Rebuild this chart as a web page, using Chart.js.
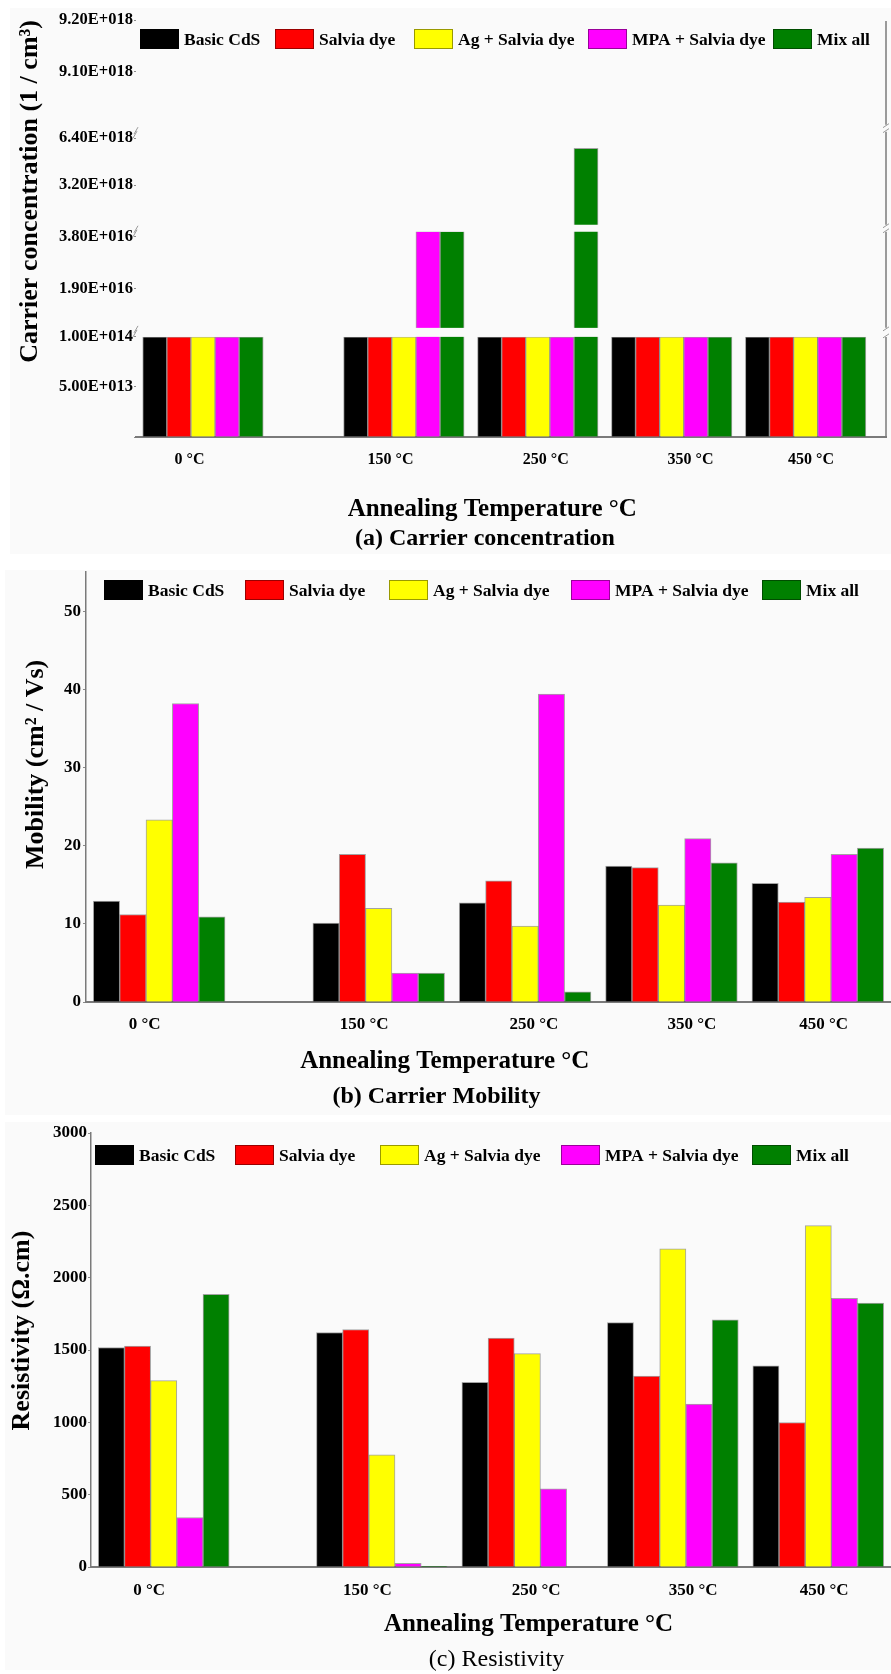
<!DOCTYPE html>
<html>
<head>
<meta charset="utf-8">
<title>CdS films vs annealing temperature</title>
<script src="https://cdn.jsdelivr.net/npm/chart.js@4.4.1/dist/chart.umd.min.js"></script>
<style>
  html, body { margin: 0; padding: 0; background: #fff; }
  canvas { display: block; }
</style>
</head>
<body>
<canvas id="chartA" width="891" height="560"></canvas>
<canvas id="chartB" width="891" height="560"></canvas>
<canvas id="chartC" width="891" height="554"></canvas>
<script>
/* data */
const temperatures = [0, 150, 250, 350, 450] // °C
const seriesNames = ['Basic CdS', 'Salvia dye', 'Ag + Salvia dye', 'MPA + Salvia dye', 'Mix all']
const seriesColors = ['#000000', '#ff0000', '#ffff00', '#ff00ff', '#008000']

// (a) carrier concentration, 1/cm3
const concBasic = [1e14, 1e14, 1e14, 1e14, 1e14]
const concSalvia = [1e14, 1e14, 1e14, 1e14, 1e14]
const concAg = [1e14, 1e14, 1e14, 1e14, 1e14]
const concMPA = [1e14, 4.0e16, 1e14, 1e14, 1e14]
const concMix = [1e14, 4.0e16, 5.7e18, 1e14, 1e14]
const concTickValues = [0, 5e13, 1e14, 1.9e16, 3.8e16, 3.2e18, 6.4e18, 9.1e18, 9.2e18]
const concTickLabels = ['', '5.00E+013', '1.00E+014', '1.90E+016', '3.80E+016', '3.20E+018', '6.40E+018', '9.10E+018', '9.20E+018']

// (b) mobility, cm2/Vs
const mobBasic = [12.9, 10.1, 12.7, 17.4, 15.2]
const mobSalvia = [11.2, 18.9, 15.5, 17.2, 12.8]
const mobAg = [23.3, 12.0, 9.7, 12.4, 13.4]
const mobMPA = [38.2, 3.7, 39.4, 20.9, 18.9]
const mobMix = [10.9, 3.7, 1.3, 17.8, 19.7]
const mobTicks = [0, 10, 20, 30, 40, 50]

// (c) resistivity, ohm.cm
const resBasic = [1517, 1621, 1276, 1689, 1390]
const resSalvia = [1527, 1642, 1582, 1320, 999]
const resAg = [1288, 776, 1475, 2200, 2360]
const resMPA = [342, 26, 540, 1126, 1857]
const resMix = [1885, 5, 0, 1709, 1825]
const resTicks = [0, 500, 1000, 1500, 2000, 2500, 3000]

/* broken axis of (a): tick slots (~50px each), linear pieces, gaps */
const concSlots = [0, 1, 2, 2.97, 4, 5.03, 5.97, 7.3, 8.33]
const concPieces = [[0, 2], [3, 4], [5, 6], [7, 8]]
const concGaps = [[2, 2.18], [4.1, 4.24], [6.1, 6.24]]
const concBreakTicks = [2, 4, 6]

function concToSlot(v) {
  let p = concPieces[0]
  concPieces.forEach(piece => { if (v >= concTickValues[piece[0]]) p = piece })
  const [a, b] = p
  return concSlots[a] + (v - concTickValues[a]) / (concTickValues[b] - concTickValues[a]) * (concSlots[b] - concSlots[a])
}

const FONT = "'Liberation Serif', 'Times New Roman', serif"
const PANEL_BG = '#fafafa'
const AXIS_GREY = '#7a7a7a'
const labelNudge = [-10, -10, 6, 14, 4] // the original labels sit a bit off the groups
Chart.defaults.font.family = FONT
Chart.defaults.font.weight = 'bold'
Chart.defaults.color = '#000'

const pad = n => ' '.repeat(n)

function line(ctx, x1, y1, x2, y2) {
  ctx.beginPath()
  ctx.moveTo(x1, y1)
  ctx.lineTo(x2, y2)
  ctx.stroke()
}

// background + one-row legend inside the plot
const panelDecor = {
  id: 'panelDecor',
  beforeDraw(chart, args, opts) {
    const ctx = chart.ctx
    ctx.save()
    ctx.fillStyle = PANEL_BG
    ctx.fillRect(opts.bg[0], opts.bg[1], opts.bg[2], opts.bg[3])
    ctx.restore()
  },
  afterDraw(chart, args, opts) {
    const ctx = chart.ctx
    ctx.save()
    ctx.font = 'bold 17.5px ' + FONT
    ctx.textBaseline = 'middle'
    ctx.lineWidth = 1
    chart.data.datasets.forEach((ds, i) => {
      const x = opts.legendX[i]
      const y = opts.legendY
      ctx.fillStyle = ds.backgroundColor
      ctx.fillRect(x, y - 10, 39, 20)
      ctx.strokeStyle = 'rgba(0,0,0,0.4)'
      ctx.strokeRect(x + 0.5, y - 9.5, 38, 19)
      ctx.fillStyle = '#000'
      ctx.fillText(ds.label, x + 44, y + 1)
    })
    ctx.restore()
  },
}

// cuts for the broken axis in (a) + right frame with break marks
const axisBreaks = {
  id: 'axisBreaks',
  afterDatasetsDraw(chart) {
    const { ctx, chartArea: { left, right, top, bottom }, scales: { y } } = chart
    ctx.save()
    ctx.fillStyle = PANEL_BG
    concGaps.forEach(([lo, hi]) => {
      const yHi = y.getPixelForValue(hi)
      ctx.fillRect(left, yHi, right - left, y.getPixelForValue(lo) - yHi)
    })
    ctx.strokeStyle = AXIS_GREY
    ctx.lineWidth = 1.5
    let from = bottom
    concGaps.forEach(([lo, hi]) => {
      line(ctx, right, from, right, y.getPixelForValue(lo))
      from = y.getPixelForValue(hi)
    })
    line(ctx, right, from, right, top + 1)
    ctx.lineWidth = 1
    ctx.strokeStyle = '#9a9a9a'
    concGaps.forEach(([lo, hi]) => {
      const ya = y.getPixelForValue(lo)
      const yb = y.getPixelForValue(hi)
      line(ctx, right - 3, ya + 1, right + 3, ya - 3)
      line(ctx, right - 3, yb + 3, right + 3, yb - 1)
    })
    concBreakTicks.forEach(i => {
      const yt = y.getPixelForValue(concSlots[i])
      line(ctx, left - 3, yt, left + 1, yt - 7)
      line(ctx, left - 2, yt - 4, left + 2, yt - 11)
    })
    ctx.restore()
  },
}

function panelChart(id, p) {
  const W = 891
  const xTitleLH = 25 * 1.2
  const subLH = 24 * 1.2
  const tickLH = p.tickSize * 1.2
  const xHeight = p.xTitleY - p.area.bottom + xTitleLH / 2
  const subTop = p.area.bottom + xHeight
  const subPadTop = p.subY - subLH / 2 - subTop
  const subPadBottom = p.H - subTop - subLH - subPadTop
  const pxPerDeg = (p.area.right - p.area.left) / (p.xMax + 50)
  const barW = pxPerDeg * 100 * 0.9 / seriesNames.length

  const datasets = seriesNames.map((name, i) => ({
    label: name,
    data: p.values[i],
    backgroundColor: seriesColors[i],
    borderColor: 'rgba(0,0,0,0.35)',
    borderWidth: 1,
    barThickness: barW,
  }))

  return new Chart(document.getElementById(id), {
    type: 'bar',
    data: { labels: temperatures, datasets },
    options: {
      responsive: false,
      animation: false,
      devicePixelRatio: 1,
      layout: { padding: { top: p.area.top, right: W - p.area.right, bottom: 0, left: 0 } },
      scales: {
        x: {
          type: 'linear',
          min: -50,
          max: p.xMax,
          offset: false,
          afterBuildTicks: s => { s.ticks = temperatures.map((t, i) => ({ value: t + labelNudge[i] })) },
          afterFit: s => { s.height = xHeight },
          grid: { display: false },
          border: { display: true, color: AXIS_GREY, width: 2 },
          ticks: {
            autoSkip: false,
            maxRotation: 0,
            padding: p.tickY - p.area.bottom - tickLH / 2,
            font: { size: p.tickSize },
            callback: (v, i) => temperatures[i] + ' °C',
          },
          title: { display: true, text: p.xTitle, font: { size: 25 }, padding: 0 },
        },
        y: {
          min: 0,
          max: p.yMax,
          afterBuildTicks: s => { s.ticks = p.yTicks.map(v => ({ value: v })) },
          afterFit: s => { s.width = p.area.left },
          ticks: { autoSkip: false, font: { size: p.yTickSize }, padding: p.yTickPad, callback: p.yLabel },
          grid: { display: true, drawOnChartArea: false, drawTicks: true, tickLength: p.yTickLen, color: '#8a8a8a' },
          border: { display: p.yBorder, color: AXIS_GREY, width: 1.5 },
          title: {
            display: true,
            text: p.yTitle,
            align: p.yTitleAlign,
            font: { size: 26 },
            padding: { top: p.yTitlePad, bottom: 0 },
          },
        },
      },
      plugins: {
        legend: { display: false },
        tooltip: { enabled: false },
        title: {
          display: true,
          position: 'bottom',
          text: p.subText,
          color: '#000',
          font: { size: 24, weight: p.subWeight },
          padding: { top: subPadTop, bottom: subPadBottom },
        },
        panelDecor: { bg: p.bg, legendX: p.legendX, legendY: p.legendY },
      },
    },
    plugins: (p.extraPlugins || []).concat([panelDecor]),
  })
}

// (a) Carrier concentration
panelChart('chartA', {
  H: 560,
  area: { left: 136, right: 886, top: 20, bottom: 437 },
  xMax: 510,
  tickSize: 16,
  tickY: 452,
  xTitleY: 510,
  subY: 539,
  xTitle: 'Annealing Temperature °C' + pad(6),
  subText: pad(14) + '(a) Carrier concentration',
  subWeight: 'bold',
  yMax: 8.33,
  yTicks: concSlots,
  yLabel: (v, i) => concTickLabels[i],
  yTickSize: 16.5,
  yTickPad: 1,
  yTickLen: 2,
  yBorder: false,
  yTitle: 'Carrier concentration (1 / cm³)',
  yTitleAlign: 'end',
  yTitlePad: 15,
  legendX: [140, 275, 414, 588, 773],
  legendY: 39,
  bg: [10, 8, 881, 546],
  values: [concBasic, concSalvia, concAg, concMPA, concMix].map(s => s.map(concToSlot)),
  extraPlugins: [axisBreaks],
})

// (b) Carrier Mobility
panelChart('chartB', {
  H: 560,
  area: { left: 86, right: 891, top: 10, bottom: 442 },
  xMax: 500,
  tickSize: 17,
  tickY: 457,
  xTitleY: 502,
  subY: 537,
  xTitle: 'Annealing Temperature °C' + pad(14),
  subText: '(b) Carrier Mobility' + pad(3),
  subWeight: 'bold',
  yMax: 55,
  yTicks: mobTicks,
  yLabel: v => v,
  yTickSize: 17,
  yTickPad: 2,
  yTickLen: 3,
  yBorder: true,
  yTitle: pad(7) + 'Mobility (cm² / Vs)',
  yTitleAlign: 'center',
  yTitlePad: 21,
  legendX: [104, 245, 389, 571, 762],
  legendY: 30,
  bg: [5, 10, 886, 545],
  values: [mobBasic, mobSalvia, mobAg, mobMPA, mobMix],
})

// (c) Resistivity
panelChart('chartC', {
  H: 554,
  area: { left: 91, right: 891, top: 13, bottom: 447 },
  xMax: 500,
  tickSize: 17,
  tickY: 463,
  xTitleY: 505,
  subY: 540,
  xTitle: pad(12) + 'Annealing Temperature °C',
  subText: pad(17) + '(c) Resistivity',
  subWeight: 'normal',
  yMax: 3000,
  yTicks: resTicks,
  yLabel: v => v,
  yTickSize: 17,
  yTickPad: 1,
  yTickLen: 3,
  yBorder: true,
  yTitle: pad(6) + 'Resistivity (Ω.cm)',
  yTitleAlign: 'center',
  yTitlePad: 7,
  legendX: [95, 235, 380, 561, 752],
  legendY: 35,
  bg: [5, 2, 886, 548],
  values: [resBasic, resSalvia, resAg, resMPA, resMix],
})
</script>
</body>
</html>
